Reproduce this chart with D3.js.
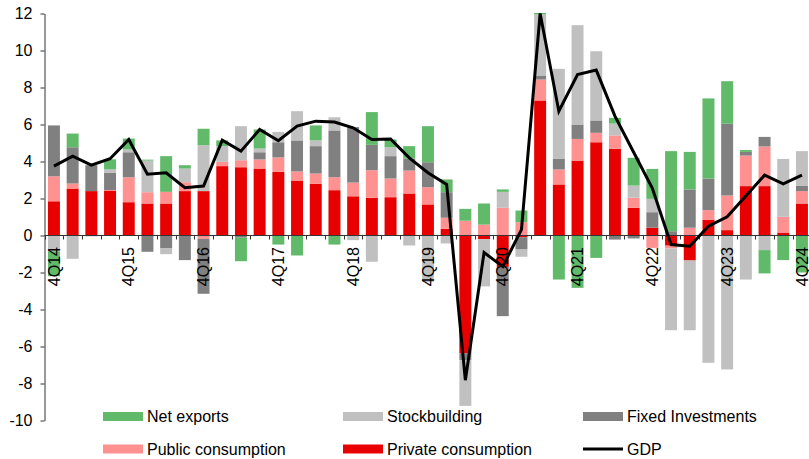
<!DOCTYPE html>
<html lang="en">
<head>
    <meta charset="UTF-8">
    <title>GDP contributions</title>
    <script src="https://d3js.org/d3.v7.min.js"></script>
    <style>
        body { margin: 0; background: #fff; }
        svg { font-family: "Liberation Sans", Arial, sans-serif; }
    </style>
</head>
<body>
    <svg width="809" height="459"></svg>

    <script>
        // Quarters 4Q14 .. 4Q24
        const quarters = [
            "4Q14", "1Q15", "2Q15", "3Q15", "4Q15", "1Q16", "2Q16", "3Q16", "4Q16",
            "1Q17", "2Q17", "3Q17", "4Q17", "1Q18", "2Q18", "3Q18", "4Q18",
            "1Q19", "2Q19", "3Q19", "4Q19", "1Q20", "2Q20", "3Q20", "4Q20",
            "1Q21", "2Q21", "3Q21", "4Q21", "1Q22", "2Q22", "3Q22", "4Q22",
            "1Q23", "2Q23", "3Q23", "4Q23", "1Q24", "2Q24", "3Q24", "4Q24"
        ];
        const xLabels = ["4Q14", "4Q15", "4Q16", "4Q17", "4Q18", "4Q19", "4Q20", "4Q21", "4Q22", "4Q23", "4Q24"];
        const yTicks = [-10, -8, -6, -4, -2, 0, 2, 4, 6, 8, 10, 12];

        // Contributions (pp)
        const privateCons = [1.85, 2.54, 2.4, 2.43, 1.8, 1.73, 1.73, 2.4, 2.4, 3.75, 3.69, 3.62, 3.44, 2.97, 2.79, 2.45, 2.12,
            2.04, 2.07, 2.27, 1.68, 0.36, -6.38, -0.2, -1.7, -0.09, 7.3, 2.76, 4.05, 5.04, 4.69, 1.5, 0.42,
            -0.55, -1.35, 0.86, 0.29, 2.67, 2.67, 0.16, 1.73];
        const publicCons = [1.35, 0.27, 0, 0.03, 1.35, 0.61, 0.63, 0.48, -0.18, 0.23, 0.38, 0.49, 0.78, 0.49, 0.56, 0.7, 0.74,
            1.49, 1.01, 1.24, 0.93, 0.6, 0.8, 0.59, 1.5, 0.72, 1.13, 0.81, 1.17, 0.51, 0.72, 0.54, -0.67,
            -0.15, 0.42, 0.51, 1.87, 1.65, 2.14, 0.85, 0.67];
        const fixedInv = [2.75, 1.96, 1.4, 0.94, 1.35, -0.88, -0.7, -1.33, -2.97, 0, -0.12, 0.39, 0.82, 1.68, 1.48, 2.53, 3.0,
            1.37, 1.21, 0.65, 1.35, 1.38, -0.36, 0, -2.66, -0.67, 0.22, 0.59, 0.78, 0.67, -0.22, -0.16, 0.84,
            0.23, 2.07, 1.71, 3.88, 0.2, 0.52, 0, 0.3];
        const stockbuilding = [-0.85, -1.26, -0.05, 0.18, 0.15, 1.71, -0.31, 0.74, 2.48, 0.85, 1.84, 0.2, 0.56, 1.58, 0.31, 0.71, -0.25,
            -1.42, 0.48, -0.54, -2.52, -0.43, -2.47, -2.55, 0.86, -0.39, 3.3, 4.85, 5.37, 3.74, 0.64, 0.66, 0.72,
            -4.42, -3.77, -6.88, -7.24, -2.38, -0.79, 3.13, 1.86];
        const netExports = [-1.35, 0.74, 0, 0.54, 0.59, 0.05, 1.93, 0.18, 0.89, 0.31, -1.27, 1.03, -0.49, -1.08, 0.81, -0.49, 0,
            1.77, 0.42, 0.67, 1.95, 0.69, 0.64, 1.14, 0.13, 0.63, 0.08, -2.38, -2.83, -1.21, 0.31, 1.5, 1.62,
            4.33, 2.03, 4.33, 2.3, 0.1, -1.26, -1.33, -2.0];
        const gdp = [3.75, 4.29, 3.8, 4.15, 5.19, 3.31, 3.39, 2.58, 2.67, 5.15, 4.56, 5.73, 5.12, 5.91, 6.18, 6.13, 5.82,
            5.19, 5.22, 4.2, 3.39, 2.76, -7.82, -0.92, -1.68, 0.32, 12.0, 6.72, 8.7, 8.94, 6.45, 4.5, 2.55,
            -0.49, -0.58, 0.5, 1.01, 2.13, 3.26, 2.79, 3.26];

        const series = [
            { key: "private", name: "Private consumption", values: privateCons, color: "#e80000" },
            { key: "public", name: "Public consumption", values: publicCons, color: "#ff9191" },
            { key: "fixed", name: "Fixed Investments", values: fixedInv, color: "#808080" },
            { key: "stock", name: "Stockbuilding", values: stockbuilding, color: "#c0c0c0" },
            { key: "net", name: "Net exports", values: netExports, color: "#60ba69" }
        ];

        const svg = d3.select("svg");

        // table for d3.stack
        const table = quarters.map((q, i) => {
            const row = { q: q };
            series.forEach(s => row[s.key] = s.values[i]);
            return row;
        });

        const x = d3.scaleBand()
            .domain(quarters)
            .range([44.6, 811.3])
            .paddingInner(0.36)
            .paddingOuter(0.18);

        const y = d3.scaleLinear()
            .domain([-10, 12])
            .range([420.5, 13.5]);

        const stacked = d3.stack()
            .keys(series.map(s => s.key))
            .offset(d3.stackOffsetDiverging)(table);

        // bars
        svg.append("g").selectAll("g")
            .data(stacked)
            .join("g")
            .attr("fill", (d, i) => series[i].color)
            .selectAll("rect")
            .data(d => d)
            .join("rect")
            .attr("x", d => x(d.data.q))
            .attr("width", x.bandwidth())
            .attr("y", d => y(Math.max(d[0], d[1])))
            .attr("height", d => Math.abs(y(d[0]) - y(d[1])));

        // y axis
        const yAxis = svg.append("g")
            .attr("transform", "translate(44.5,0)")
            .call(d3.axisLeft(y).tickValues(yTicks).tickFormat(d => String(d))
                .tickSize(4).tickSizeOuter(0).tickPadding(8));
        yAxis.selectAll("path, line").attr("stroke", "#333");
        yAxis.selectAll("text").attr("font-size", 16).attr("fill", "#000")
            .attr("font-family", "'Liberation Sans', Arial, sans-serif");

        // x axis along zero
        const y0 = Math.round(y(0)) + 0.5;
        const xAxis = svg.append("g");
        xAxis.append("line")
            .attr("x1", 44.5).attr("x2", 809)
            .attr("y1", y0).attr("y2", y0)
            .attr("stroke", "#333");
        const step = x.step();
        xAxis.selectAll("line.tick")
            .data(quarters)
            .join("line")
            .attr("class", "tick")
            .attr("x1", d => Math.round(x(d) + x.bandwidth() / 2 - step / 2) + 0.5)
            .attr("x2", d => Math.round(x(d) + x.bandwidth() / 2 - step / 2) + 0.5)
            .attr("y1", y0).attr("y2", y0 + 4)
            .attr("stroke", "#333");
        xAxis.selectAll("text")
            .data(xLabels)
            .join("text")
            .attr("transform", d => `translate(${x(d) + x.bandwidth() / 2},247) rotate(-90)`)
            .attr("text-anchor", "end")
            .attr("dy", "0.35em")
            .attr("font-size", 16)
            .text(d => d);

        // GDP line
        const line = d3.line()
            .x((d, i) => x(quarters[i]) + x.bandwidth() / 2)
            .y(d => y(d));
        svg.append("path")
            .datum(gdp)
            .attr("fill", "none")
            .attr("stroke", "#000")
            .attr("stroke-width", 3)
            .attr("stroke-linejoin", "miter")
            .attr("d", line);

        // legend
        const legendItems = [
            { name: "Net exports", color: "#60ba69", type: "bar" },
            { name: "Stockbuilding", color: "#c0c0c0", type: "bar" },
            { name: "Fixed Investments", color: "#808080", type: "bar" },
            { name: "Public consumption", color: "#ff9191", type: "bar" },
            { name: "Private consumption", color: "#e80000", type: "bar" },
            { name: "GDP", color: "#000", type: "line" }
        ];
        const legend = svg.append("g").selectAll("g")
            .data(legendItems)
            .join("g")
            .attr("transform", (d, i) => `translate(${103 + (i % 3) * 240},${i < 3 ? 416.5 : 449})`);
        legend.filter(d => d.type === "bar").append("rect")
            .attr("x", 0).attr("y", -4.5)
            .attr("width", 40).attr("height", 9)
            .attr("fill", d => d.color);
        legend.filter(d => d.type === "line").append("line")
            .attr("x1", 0).attr("x2", 40)
            .attr("stroke", d => d.color)
            .attr("stroke-width", 3);
        legend.append("text")
            .attr("x", 44)
            .attr("dy", "0.35em")
            .attr("font-size", 16)
            .text(d => d.name);
    </script>
</body>
</html>
